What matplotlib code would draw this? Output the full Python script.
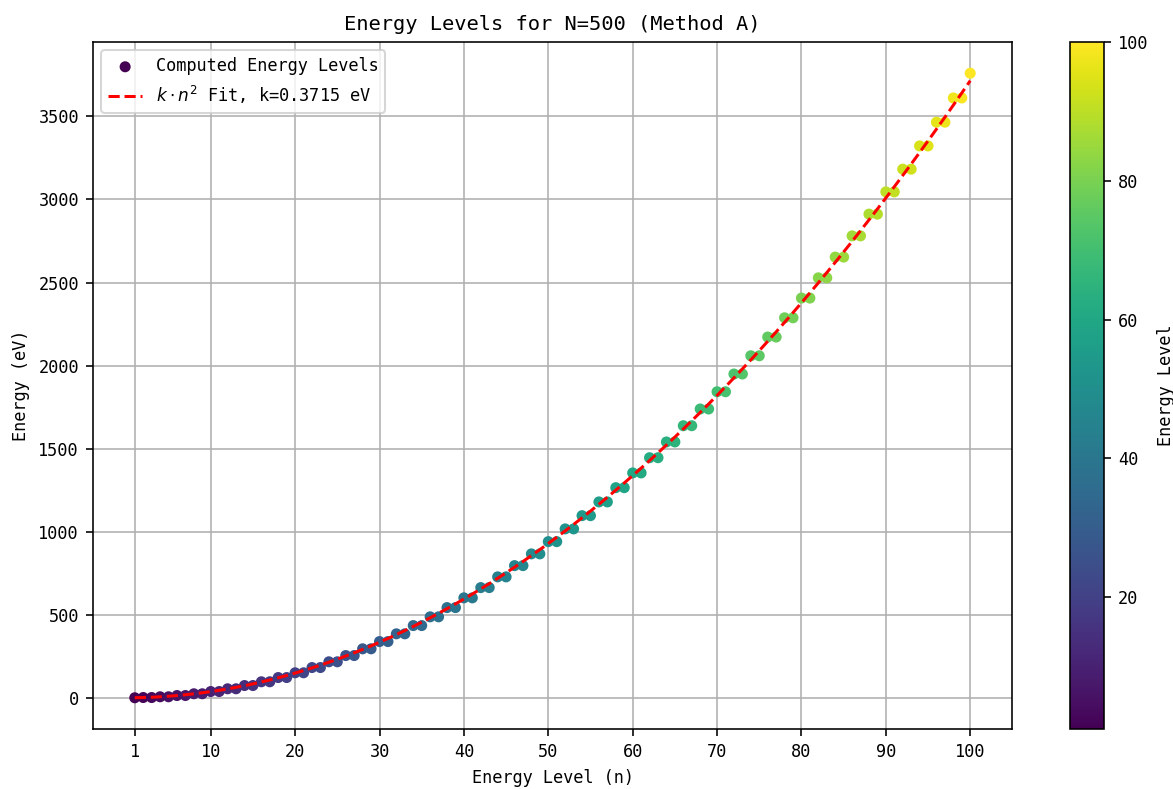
import numpy as np
import matplotlib
matplotlib.use("Agg")
import matplotlib.pyplot as plt

plt.rcParams['font.family'] = ['DejaVu Sans Mono', 'DejaVu Sans']

# Energy level index
levels = list(range(1, 101))

# Computed energies (eV) (levels come in near-degenerate pairs)
energies = [
    0.0,
    1.5, 1.5,
    6.0, 6.0,
    13.5, 13.5,
    24.1, 24.1,
    37.6, 37.6,
    54.1, 54.1,
    73.7, 73.7,
    96.3, 96.3,
    121.8, 121.8,
    150.4, 150.4,
    182.0, 182.0,
    216.6, 216.6,
    254.2, 254.2,
    294.8, 294.8,
    338.4, 338.4,
    385.0, 385.0,
    434.7, 434.7,
    487.3, 487.3,
    542.9, 542.9,
    601.6, 601.6,
    663.3, 663.3,
    727.9, 727.9,
    795.6, 795.6,
    866.3, 866.3,
    940.0, 940.0,
    1016.7, 1016.7,
    1096.4, 1096.4,
    1179.1, 1179.1,
    1264.9, 1264.9,
    1353.6, 1353.6,
    1445.3, 1445.3,
    1540.1, 1540.1,
    1637.9, 1637.9,
    1738.6, 1738.6,
    1842.4, 1842.4,
    1949.2, 1949.2,
    2059.0, 2059.0,
    2171.8, 2171.8,
    2287.6, 2287.6,
    2406.4, 2406.4,
    2528.2, 2528.2,
    2653.1, 2653.1,
    2780.9, 2780.9,
    2911.7, 2911.7,
    3045.6, 3045.6,
    3182.5, 3182.5,
    3322.3, 3322.3,
    3465.2, 3465.2,
    3611.1, 3611.1,
    3760.0,
]

k_fit = 0.3715
xticks = [1, 10, 20, 30, 40, 50, 60, 70, 80, 90, 100]

n = np.array(levels)
E = np.array(energies)

fig = plt.figure(figsize=(1173 / 145, 789 / 145), dpi=145)
ax = fig.add_axes([93 / 1173, 60 / 789, (1012 - 93) / 1173, (729 - 42) / 789])
cax = fig.add_axes([1070 / 1173, 60 / 789, 34 / 1173, (729 - 42) / 789])

fs = 8.4
sc = ax.scatter(n, E, c=n, cmap='viridis', s=20, label='Computed Energy Levels', zorder=2)
ax.plot(n, k_fit * n ** 2, 'r--', linewidth=1.5,
        label=r'$k \cdot n^2$ Fit, k=%.4f eV' % k_fit, zorder=3)

ax.set_xticks(xticks)
ax.tick_params(labelsize=fs)
ax.grid(True, zorder=0)
ax.set_axisbelow(True)
ax.set_xlabel('Energy Level (n)', fontsize=fs)
ax.set_ylabel('Energy (eV)', fontsize=fs)
ax.set_title('Energy Levels for N=500 (Method A)', fontsize=10.1)
ax.legend(loc='upper left', fontsize=fs)

cb = fig.colorbar(sc, cax=cax)
cb.ax.tick_params(labelsize=fs)
cb.set_label('Energy Level', fontsize=fs)

fig.savefig('out.png', dpi=145)
